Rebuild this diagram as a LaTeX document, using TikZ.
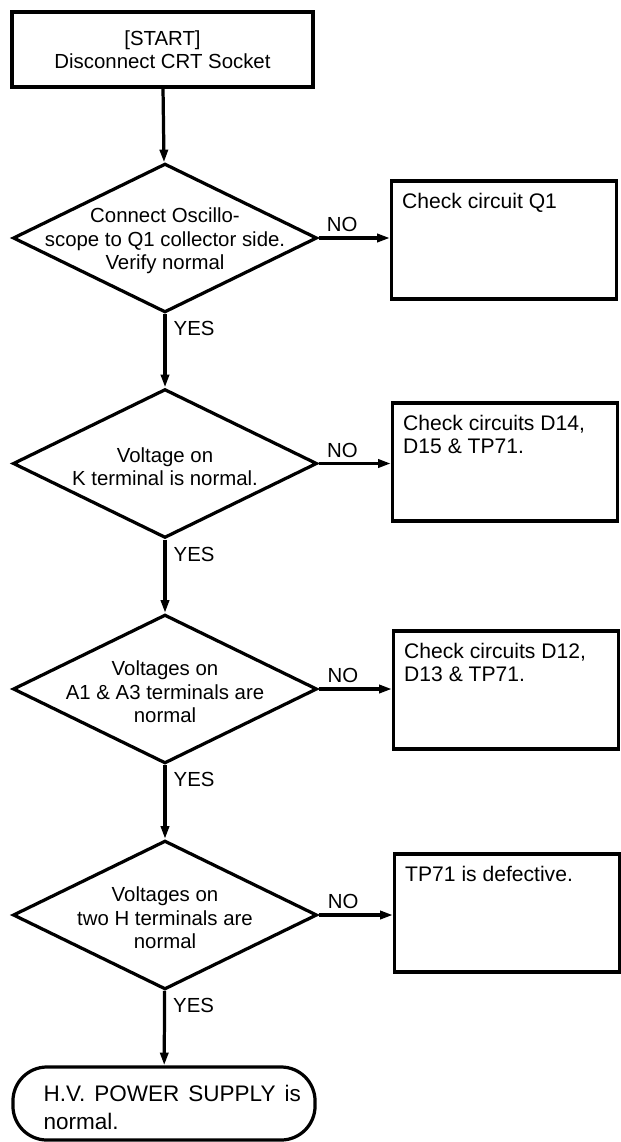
\documentclass[tikz,border=0pt]{standalone}
\usepackage{fontspec}
\setmainfont{Liberation Sans}
\usetikzlibrary{shapes.geometric, arrows.meta, positioning}
\newcommand{\chartfont}{\fontsize{14.5}{16}\selectfont}
\tikzset{
	startbox/.style={rectangle, draw, line width=2.3pt, minimum width=7.52cm, minimum height=1.875cm, align=center, font=\chartfont},
	decision/.style={diamond, draw, line width=2.3pt, inner sep=0pt, minimum width=7.6cm, minimum height=3.72cm},
	decisiontext/.style={align=center, inner sep=0pt, yshift=-2pt, font=\fontsize{14.5}{16.5}\selectfont},
	checkbox/.style={rectangle, draw, line width=2.3pt, minimum width=5.62cm, minimum height=2.95cm},
	boxtext/.style={anchor=north west, align=left, inner xsep=0.3cm, inner ysep=0.33cm, font=\fontsize{15}{16.5}\selectfont},
	terminal/.style={rectangle, rounded corners=0.85cm, draw, line width=2.3pt, minimum width=7.55cm, minimum height=1.825cm},
	endtext/.style={anchor=west, inner xsep=0.8cm, inner ysep=0pt, yshift=-3pt, text width=6.43cm, align=justify, font=\fontsize{16}{20}\selectfont},
	flow/.style={draw, line width=2.3pt, ->},
	nolabel/.style={pos=0.33, above, font=\chartfont, inner sep=3pt},
	yeslabel/.style={pos=0.2, right, font=\chartfont, inner sep=5pt}
}

\begin{document}
\begin{tikzpicture}[x=0.025cm, y=-0.025cm, >={Triangle[length=3.2mm, width=2mm]}]
	\useasboundingbox (0,0) rectangle (620,1142);
	
	% --- Start ---
	\node[startbox] (start) at (162.5,49.5) {[START]\\Disconnect CRT Socket};
	
	% --- Decisions down the main column ---
	\node[decision, label={[decisiontext]center:Connect Oscillo-\\scope to Q1 collector side.\\Verify normal}] (scope) at (165,238) {};
	\node[decision, label={[decisiontext]center:Voltage on\\K terminal is normal.}] (kterm) at (165,463.5) {};
	\node[decision, label={[decisiontext]center:Voltages on\\A1 \& A3 terminals are\\normal}] (aterm) at (165,689) {};
	\node[decision, label={[decisiontext]center:Voltages on\\two H terminals are\\normal}] (hterm) at (165,915) {};
	
	% --- Checks on the right ---
	\node[checkbox, label={[boxtext]north west:Check circuit Q1}] (chkq) at (504,240) {};
	\node[checkbox, label={[boxtext]north west:Check circuits D14,\\D15 \& TP71.}] (chkd14) at (505,462) {};
	\node[checkbox, label={[boxtext]north west:Check circuits D12,\\D13 \& TP71.}] (chkd12) at (506,690) {};
	\node[checkbox, label={[boxtext]north west:TP71 is defective.}] (chktp) at (507,913) {};
	
	% --- End ---
	\node[terminal, label={[endtext]west:H.V. POWER SUPPLY is normal.}] (done) at (164,1103.5) {};
	
	% --- Main flow ---
	\draw[flow] (start) -- (scope);
	\draw[flow] (scope) -- node[yeslabel] {YES} (kterm);
	\draw[flow] (kterm) -- node[yeslabel] {YES} (aterm);
	\draw[flow] (aterm) -- node[yeslabel] {YES} (hterm);
	\draw[flow] (hterm) -- node[yeslabel] {YES} (done);
	
	% --- NO branches ---
	\draw[flow] (scope.east) -- node[nolabel] {NO} (scope.east -| chkq.west);
	\draw[flow] (kterm.east) -- node[nolabel] {NO} (kterm.east -| chkd14.west);
	\draw[flow] (aterm.east) -- node[nolabel] {NO} (aterm.east -| chkd12.west);
	\draw[flow] (hterm.east) -- node[nolabel] {NO} (hterm.east -| chktp.west);
	
\end{tikzpicture}
\end{document}
